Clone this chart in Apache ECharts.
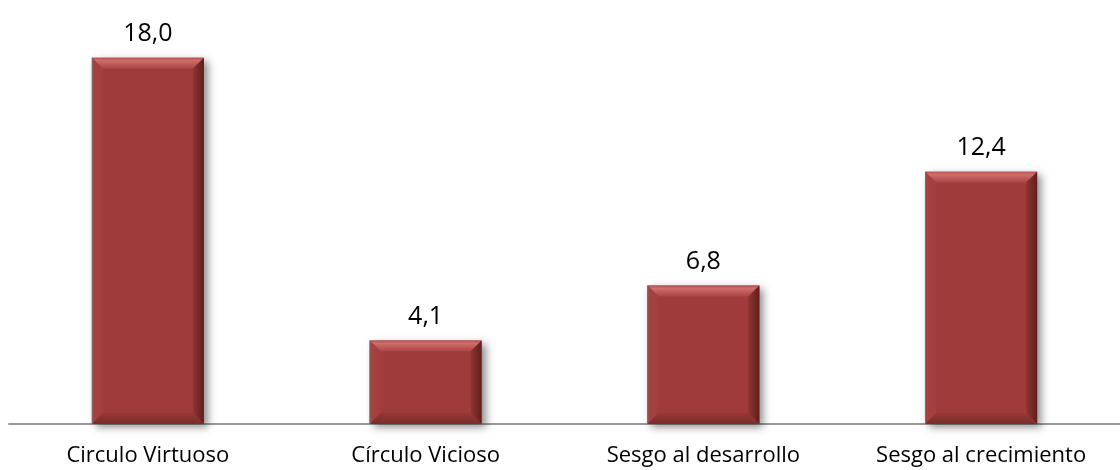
<!DOCTYPE html>
<html>
<head>
<meta charset="utf-8">
<script src="https://cdn.jsdelivr.net/npm/echarts@6/dist/echarts.min.js"></script>
<style>
html,body{margin:0;padding:0;background:#fff;}
#chart{width:1120px;height:470px;}
</style>
</head>
<body>
<div id="chart"></div>
<script>
var categories = ['Circulo Virtuoso', 'Círculo Vicioso', 'Sesgo al desarrollo', 'Sesgo al crecimiento'];
var values = [18.0, 4.1, 6.8, 12.4];
var valueLabels = ['18,0', '4,1', '6,8', '12,4'];

var FONT = '"Open Sans", Lato, sans-serif';
var chart = echarts.init(document.getElementById('chart'));

function renderBar(params, api) {
  var idx = api.value(0);
  var v = api.value(1);
  var top = api.coord([idx, v]);
  var base = api.coord([idx, 0]);
  var w = 112;
  var x0 = top[0] - w / 2, x1 = top[0] + w / 2;
  var y0 = top[1], y1 = base[1];
  var b = 11;
  return {
    type: 'group',
    children: [
      { type: 'rect', shape: { x: x0, y: y0, width: w, height: y1 - y0 },
        style: { fill: '#9f3c3b', shadowBlur: 8, shadowOffsetX: 4, shadowOffsetY: 3, shadowColor: 'rgba(0,0,0,0.45)' } },
      { type: 'polygon', shape: { points: [[x0, y0], [x1, y0], [x1 - b, y0 + b], [x0 + b, y0 + b]] },
        style: { fill: new echarts.graphic.LinearGradient(0, 0, 0, 1, [
          { offset: 0, color: '#b5514f' }, { offset: 0.25, color: '#d06e6b' }, { offset: 1, color: '#a94543' }]) } },
      { type: 'polygon', shape: { points: [[x0, y0], [x0 + b, y0 + b], [x0 + b, y1 - b], [x0, y1]] },
        style: { fill: new echarts.graphic.LinearGradient(0, 0, 1, 0, [
          { offset: 0, color: '#a64241' }, { offset: 1, color: '#a23f3e' }]) } },
      { type: 'polygon', shape: { points: [[x1, y0], [x1, y1], [x1 - b, y1 - b], [x1 - b, y0 + b]] },
        style: { fill: new echarts.graphic.LinearGradient(0, 0, 1, 0, [
          { offset: 0, color: '#8f3433' }, { offset: 1, color: '#5e1f1e' }]) } },
      { type: 'polygon', shape: { points: [[x0, y1], [x1, y1], [x1 - b, y1 - b], [x0 + b, y1 - b]] },
        style: { fill: new echarts.graphic.LinearGradient(0, 0, 0, 1, [
          { offset: 0, color: '#953837' }, { offset: 1, color: '#7a2c2b' }]) } },
      { type: 'line', shape: { x1: x0 + 0.5, y1: y0, x2: x0 + 0.5, y2: y1 },
        style: { stroke: 'rgba(120,120,120,0.6)', lineWidth: 1 } },
      { type: 'text', x: top[0], y: y0 - 11,
        style: { text: valueLabels[idx], fill: '#000', font: '25px ' + FONT, align: 'center', verticalAlign: 'bottom' } }
    ]
  };
}

chart.setOption({
  animation: false,
  grid: { left: 9, width: 1124, top: 17, bottom: 46, containLabel: false },
  xAxis: {
    type: 'category', data: categories, boundaryGap: true,
    axisLine: { show: true, lineStyle: { color: '#9a9a9a', width: 2 } },
    axisTick: { show: false },
    axisLabel: { color: '#000', fontSize: 22, fontFamily: FONT, margin: 21, interval: 0 }
  },
  yAxis: { type: 'value', min: 0, max: 20, show: false, splitLine: { show: false } },
  series: [{
    type: 'custom',
    renderItem: renderBar,
    data: values.map(function (v, i) { return [i, v]; }),
    encode: { x: 0, y: 1 },
    clip: false
  }]
});
</script>
</body>
</html>
